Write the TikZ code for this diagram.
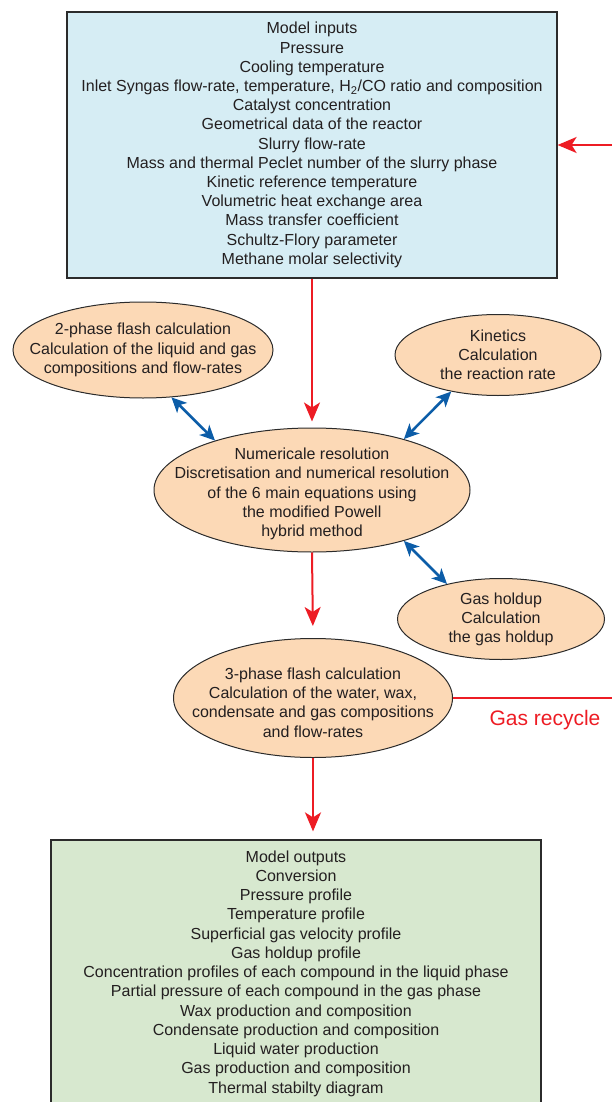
\documentclass[tikz,border=0pt]{standalone}
\usepackage{fontspec}
\setmainfont{Liberation Sans}
\usetikzlibrary{shapes.geometric,arrows.meta}
\definecolor{inblue}{HTML}{D6EDF4}
\definecolor{peach}{HTML}{FCD9B6}
\definecolor{outgreen}{HTML}{D7E8CF}
\definecolor{myred}{HTML}{ED1C24}
\definecolor{myblue}{HTML}{0C5DA8}
\definecolor{txt}{HTML}{231F20}
\definecolor{edge}{HTML}{2B2B2B}
\tikzset{
  bigbox/.style={draw=edge, line width=1.2pt, inner sep=0pt},
  txtblock/.style={align=center, inner sep=0pt, font=\fontsize{16}{19.2}\selectfont, text=txt},
  oval/.style={ellipse, draw=edge, line width=1pt, fill=peach, inner sep=0pt},
  redarrow/.style={draw=myred, line width=2pt, -{Stealth[length=19pt,width=16pt,inset=5pt]}},
  redline/.style={draw=myred, line width=2pt},
  bluearrow/.style={draw=myblue, line width=2.6pt, {Stealth[length=15pt,width=14pt,inset=4pt]}-{Stealth[length=15pt,width=14pt,inset=4pt]}}
}
\begin{document}
\begin{tikzpicture}[x=1pt,y=-1pt]
\useasboundingbox (0,0) rectangle (612,1102);
\clip (0,0) rectangle (612,1102);
\node[bigbox, fill=inblue, minimum width=490pt, minimum height=266pt] (inputs) at (312,145) {};
\node[txtblock] (inputstext) at (312,145)
 {Model inputs\\Pressure\\Cooling temperature\\Inlet Syngas flow-rate, temperature, H\textsubscript{2}/CO ratio and composition\\Catalyst concentration\\Geometrical data of the reactor\\Slurry flow-rate\\Mass and thermal Peclet number of the slurry phase\\Kinetic reference temperature\\Volumetric heat exchange area\\Mass transfer coefficient\\Schultz-Flory parameter\\Methane molar selectivity};
\node[oval, minimum width=260pt, minimum height=96pt] (flash2) at (143,350) {};
\node[txtblock] (flash2text) at (143,350)
 {2-phase flash calculation\\Calculation of the liquid and gas\\compositions and flow-rates};
\node[oval, minimum width=206pt, minimum height=81pt] (kin) at (498,355) {};
\node[txtblock] (kintext) at (498,354.5)
 {Kinetics\\Calculation\\the reaction rate};
\node[oval, minimum width=316pt, minimum height=124pt] (num) at (312,490) {};
\node[txtblock] (numtext) at (312,494)
 {Numericale resolution\\Discretisation and numerical resolution\\of the 6 main equations using\\the modified Powell\\hybrid method};
\node[oval, minimum width=207pt, minimum height=81pt] (holdup) at (501,619) {};
\node[txtblock] (holduptext) at (501,619.5)
 {Gas holdup\\Calculation\\the gas holdup};
\node[oval, minimum width=279pt, minimum height=119pt] (flash3) at (313,698) {};
\node[txtblock] (flash3text) at (313,702.5)
 {3-phase flash calculation\\Calculation of the water, wax,\\condensate and gas compositions\\and flow-rates};
\node[bigbox, fill=outgreen, minimum width=490pt, minimum height=270pt] (outputs) at (296,975) {};
\node[txtblock, font=\fontsize{16}{19.25}\selectfont] (outtext) at (296,973.5)
 {Model outputs\\Conversion\\Pressure profile\\Temperature profile\\Superficial gas velocity profile\\Gas holdup profile\\Concentration profiles of each compound in the liquid phase\\Partial pressure of each compound in the gas phase\\Wax production and composition\\Condensate production and composition\\Liquid water production\\Gas production and composition\\Thermal stabilty diagram};
\coordinate (rin) at (612,145);
\coordinate (rout) at (612,698);
\node[text=myred, font=\fontsize{21}{24}\selectfont, inner sep=0pt] (recl) at (545,720) {Gas recycle};
\draw[redarrow] (rin) -- (inputs.east |- rin);
\draw[redarrow, shorten >=6pt] (inputs.south) -- (num.north);
\draw[redarrow, shorten >=12pt] (num.south) -- (flash3.north);
\draw[redarrow, shorten >=8pt] (flash3.south) -- (flash3.south |- outputs.north);
\draw[redline] (flash3.east) -- (rout);
\draw[bluearrow] (flash2.-59) -- (num.153.4);
\draw[bluearrow] (kin.-142) -- (num.29);
\draw[bluearrow] (holdup.147.3) -- (num.-29.3);
\end{tikzpicture}
\end{document}
